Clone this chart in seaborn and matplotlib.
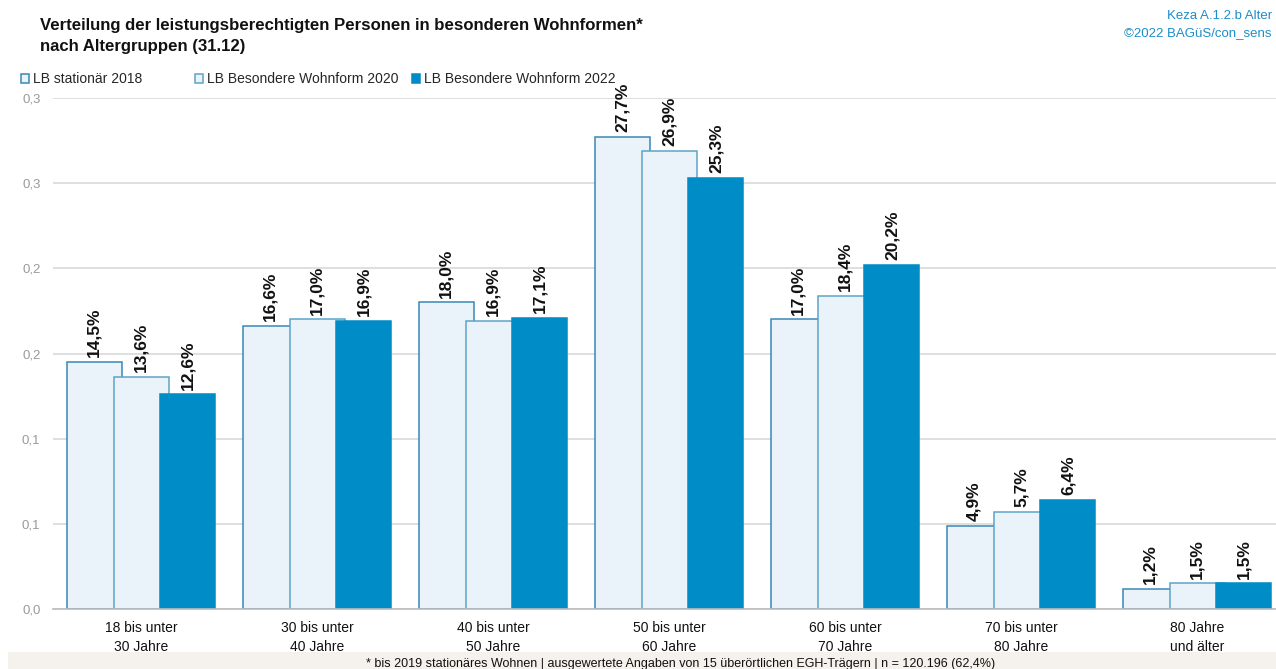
import matplotlib
matplotlib.use("Agg")
import matplotlib.pyplot as plt
from matplotlib.patches import Patch, Rectangle
from matplotlib import font_manager
import seaborn as sns
import pandas as pd

categories = ["18 bis unter\n30 Jahre", "30 bis unter\n40 Jahre", "40 bis unter\n50 Jahre",
              "50 bis unter\n60 Jahre", "60 bis unter\n70 Jahre", "70 bis unter\n80 Jahre",
              "80 Jahre\nund älter"]
series_names = ["LB stationär 2018", "LB Besondere Wohnform 2020", "LB Besondere Wohnform 2022"]
vals_2018 = [14.5, 16.6, 18.0, 27.7, 17.0, 4.9, 1.2]
vals_2020 = [13.6, 17.0, 16.9, 26.9, 18.4, 5.7, 1.5]
vals_2022 = [12.6, 16.9, 17.1, 25.3, 20.2, 6.4, 1.5]
ytick_values = [0.0, 0.05, 0.10, 0.15, 0.20, 0.25, 0.30]
ytick_labels = ["0,0", "0,1", "0,1", "0,2", "0,2", "0,3", "0,3"]

sns.set_style("white")
names = {f.name for f in font_manager.fontManager.ttflist}
fam = "Liberation Sans Narrow" if "Liberation Sans Narrow" in names else "Liberation Sans"
plt.rcParams["font.family"] = [fam, "DejaVu Sans"]

rows = []
for s, vals in zip(series_names, [vals_2018, vals_2020, vals_2022]):
    for c, v in zip(categories, vals):
        rows.append({"cat": c, "series": s, "val": v / 100})
df = pd.DataFrame(rows)

W, H = 1276, 669
fig = plt.figure(figsize=(W / 100, H / 100), dpi=100)
left, right, top, bottom = 53, 1285, 98, 609
ax = fig.add_axes([left / W, 1 - bottom / H, (right - left) / W, (bottom - top) / H])

fills = ["#EAF3FA", "#EAF3FA", "#008CC6"]
edges = ["#3A87B5", "#5FA3C9", "#008CC6"]
sns.barplot(data=df, x="cat", y="val", hue="series", hue_order=series_names,
            order=categories, palette=fills, width=0.8, ax=ax, legend=False,
            errorbar=None, saturation=1)

bw = 0.3125
for i, cont in enumerate(ax.containers):
    for p in cont:
        c = p.get_x() + p.get_width() / 2
        p.set_width(bw)
        p.set_x(c - bw / 2)
        p.set_facecolor(fills[i])
        p.set_edgecolor(edges[i])
        p.set_linewidth(1.1)
        p.set_zorder(2 + i)
        h = p.get_height()
        ax.annotate(f"{h*100:.1f}%".replace(".", ","), xy=(c, h), xytext=(0, 3.5),
                    textcoords="offset points", rotation=90, ha="center", va="bottom",
                    fontsize=12.5, fontweight="bold", color="#111111", zorder=6)

ax.set_xlim(-0.5, len(categories) - 0.5)
ax.set_ylim(0, 0.30)
ax.set_yticks(ytick_values)
ax.set_yticklabels(ytick_labels)
ax.yaxis.grid(True, color="#D9D9D9", linewidth=1.2, zorder=0)
ax.set_axisbelow(True)
ax.tick_params(axis="y", length=0, pad=9, labelsize=9.5, labelcolor="#9A9A9A")
ax.tick_params(axis="x", which="major", length=0, pad=9, labelsize=10, labelcolor="#111111")
ax.set_xticks([x - 0.5 for x in range(len(categories) + 1)], minor=True)
ax.tick_params(axis="x", which="minor", length=7, color="#BBBBBB", width=1)
for lab in ax.get_xticklabels():
    lab.set_linespacing(1.45)
ax.set_xlabel("")
ax.set_ylabel("")
for s in ["left", "right", "top"]:
    ax.spines[s].set_visible(False)
ax.spines["bottom"].set_color("#BBBBBB")
ax.spines["bottom"].set_linewidth(1.2)
ax.spines["bottom"].set_zorder(10)

# title
fig.text(40 / W, 1 - 18 / H, "Verteilung der leistungsberechtigten Personen in besonderen Wohnformen*\nnach Altergruppen (31.12)",
         ha="left", va="top", fontsize=12.1, fontweight="bold", color="#111111", linespacing=1.5)
# source text top right
fig.text(1272 / W, 1 - 10 / H, "Keza A.1.2.b Alter", ha="right", va="top", fontsize=9.5, color="#1E8DC9")
fig.text(1272 / W, 1 - 27 / H, "©2022 BAGüS/con_sens", ha="right", va="top", fontsize=9.5, color="#1E8DC9")

# legend: one entry per legend so each square sits where the reference has it
legend_x = [22, 196, 413]
for i in range(3):
    h = Patch(facecolor=fills[i], edgecolor=edges[i], linewidth=1.1)
    leg = fig.legend([h], [series_names[i]], loc="upper left",
                     bbox_to_anchor=((legend_x[i] - 1) / W, 1 - 72 / H),
                     frameon=False, fontsize=10, handlelength=0.6, handleheight=0.6,
                     handletextpad=0.25, borderaxespad=0, borderpad=0)

# footer band
fig.patches.append(Rectangle((8 / W, 0), 1, 17 / H, transform=fig.transFigure,
                             facecolor="#F5F1EC", edgecolor="none", zorder=0))
fig.text(681 / W, 1 - 658 / H,
         "* bis 2019 stationäres Wohnen | ausgewertete Angaben von 15 überörtlichen EGH-Trägern | n = 120.196 (62,4%)",
         ha="center", va="top", fontsize=9, color="#111111")

fig.savefig("out.png", dpi=100)
